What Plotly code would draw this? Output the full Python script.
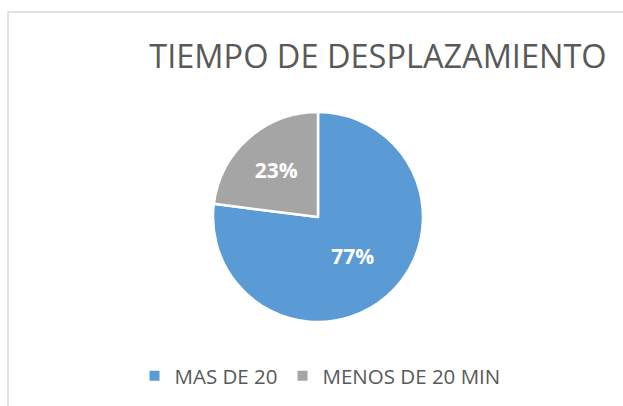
import plotly.graph_objects as go

labels = ["MAS DE 20", "MENOS DE 20 MIN"]
values = [77, 23]
colors = ["#5B9BD5", "#A5A5A5"]

W, H = 623, 406

fig = go.Figure(go.Pie(
    labels=labels,
    values=values,
    sort=False,
    direction="clockwise",
    rotation=0,
    marker=dict(colors=colors, line=dict(color="white", width=2.5)),
    textinfo="percent",
    texttemplate="%{percent:.0%}",
    textposition="inside",
    insidetextorientation="horizontal",
    textfont=dict(family="Open Sans", size=21, color="white", weight="bold"),
    domain=dict(x=[213 / W, 423 / W], y=[1 - 322 / H, 1 - 112 / H]),
    hoverinfo="label+percent",
))

fig.update_layout(
    width=W, height=H,
    margin=dict(l=0, r=0, t=0, b=0),
    paper_bgcolor="white",
    plot_bgcolor="white",
    title=dict(text="TIEMPO DE DESPLAZAMIENTO", x=378 / W, xanchor="center",
               y=1 - 57 / H, yanchor="middle",
               font=dict(family="Open Sans", size=32.5, color="#595959")),
    showlegend=True,
    legend=dict(orientation="h", x=320 / W, xanchor="center", y=1 - 376 / H, yanchor="middle",
                font=dict(family="Open Sans", size=20.5, color="#595959"),
                itemsizing="constant", itemwidth=30, entrywidth=0),
    shapes=[dict(type="rect", xref="paper", yref="paper", x0=8 / W, x1=1.05, y0=-0.05, y1=1 - 12 / H,
                 line=dict(color="#D9D9D9", width=1.5), layer="below")],
)

fig.write_html("out.html", config={"displayModeBar": False},
               post_script="document.body.style.margin='0';document.body.style.overflow='hidden';")
